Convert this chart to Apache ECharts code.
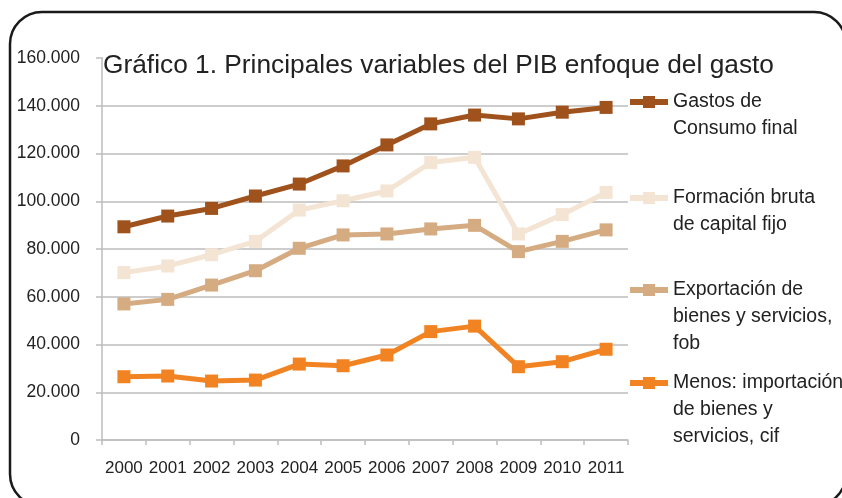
<!DOCTYPE html>
<html>
<head>
<meta charset="utf-8">
<script src="https://cdn.jsdelivr.net/npm/echarts@6/dist/echarts.min.js"></script>
<style>
  html, body { margin: 0; padding: 0; background: #fff; }
  #chart { width: 842px; height: 498px; }
</style>
</head>
<body>
<div id="chart"></div>
<script>
// años
const years = ['2000', '2001', '2002', '2003', '2004', '2005', '2006', '2007', '2008', '2009', '2010', '2011']

// valores
const gastosConsumo = [89300, 93800, 97000, 102200, 107200, 114800, 123600, 132400, 136100, 134500, 137300, 139300]
const formacionBruta = [70100, 72900, 77600, 83200, 96300, 100200, 104300, 116200, 118400, 86300, 94400, 103700]
const exportacion = [57000, 58900, 64900, 70900, 80300, 85900, 86300, 88400, 89900, 78900, 83200, 88000]
const importacion = [26500, 26800, 24700, 25100, 31800, 31100, 35600, 45400, 47700, 30700, 32800, 38000]

const seriesNames = [
  'Gastos de\nConsumo final',
  'Formación bruta\nde capital fijo',
  'Exportación de\nbienes y servicios,\nfob',
  'Menos: importación\nde bienes y\nservicios, cif'
]
const seriesData = [gastosConsumo, formacionBruta, exportacion, importacion]
const colors = ['#A0521D', '#F3E4D3', '#D5AB82', '#F28322']

const yTicks = [0, 20000, 40000, 60000, 80000, 100000, 120000, 140000, 160000]

const FONT = '"Liberation Sans", Arial, sans-serif'
const LINE_H = 27
const legendCenters = [102, 198, 290, 383]

const chart = echarts.init(document.getElementById('chart'), null, { renderer: 'canvas' })

function fmtMiles(v) {
  if (v === 0) return '0'
  return String(v).replace(/\B(?=(\d{3})+(?!\d))/g, '.')
}

// una leyenda por serie; se anteponen líneas vacías para que la primera línea quede a la altura del icono
const legends = seriesNames.map((name, i) => {
  const n = name.split('\n').length
  const h = (2 * n - 1) * LINE_H
  return {
    data: [name],
    left: 627,
    top: legendCenters[i] - h / 2,
    orient: 'vertical',
    padding: 0,
    itemWidth: 38,
    itemHeight: 15,
    selectedMode: false,
    lineStyle: { width: 6 },
    formatter: (nm) => '\n'.repeat(n - 1) + nm,
    textStyle: {
      fontFamily: FONT,
      fontSize: 19.5,
      lineHeight: LINE_H,
      color: '#222'
    }
  }
})

chart.setOption({
  animation: false,
  color: colors,
  title: {
    text: 'Gráfico 1. Principales variables del PIB enfoque del gasto',
    left: 103,
    top: 53,
    padding: 0,
    backgroundColor: '#fff',
    textStyle: {
      fontFamily: FONT,
      fontSize: 26.3,
      fontWeight: 'normal',
      color: '#222'
    },
    z: 10
  },
  legend: legends,
  grid: {
    left: 102,
    right: 214,
    top: 58,
    bottom: 58,
    containLabel: false
  },
  xAxis: {
    type: 'category',
    data: years,
    boundaryGap: true,
    axisLine: { lineStyle: { color: '#BDBDBD', width: 1.5 } },
    axisTick: { show: true, length: 5, lineStyle: { color: '#BDBDBD', width: 1.5 } },
    axisLabel: {
      interval: 0,
      margin: 20,
      fontFamily: FONT,
      fontSize: 17,
      color: '#222'
    }
  },
  yAxis: {
    type: 'value',
    min: yTicks[0],
    max: yTicks[yTicks.length - 1],
    interval: yTicks[1] - yTicks[0],
    axisLine: { show: true, lineStyle: { color: '#BDBDBD', width: 1.5 } },
    axisTick: { show: true, length: 6, lineStyle: { color: '#BDBDBD', width: 1.5 } },
    splitLine: { lineStyle: { color: '#BDBDBD', width: 1.5 } },
    axisLabel: {
      margin: 22,
      fontFamily: FONT,
      fontSize: 17.5,
      color: '#222',
      formatter: fmtMiles
    }
  },
  series: seriesData.map((d, i) => ({
    name: seriesNames[i],
    type: 'line',
    data: d,
    symbol: 'rect',
    symbolSize: 13,
    lineStyle: { width: 5, color: colors[i] },
    itemStyle: { color: colors[i] },
    z: 5 - i
  })),
  graphic: [
    {
      type: 'rect',
      shape: { x: 10, y: 12, width: 836, height: 494, r: 32 },
      style: { fill: null, stroke: '#1a1a1a', lineWidth: 2.5 },
      silent: true,
      z: 20
    }
  ]
})
</script>
</body>
</html>
